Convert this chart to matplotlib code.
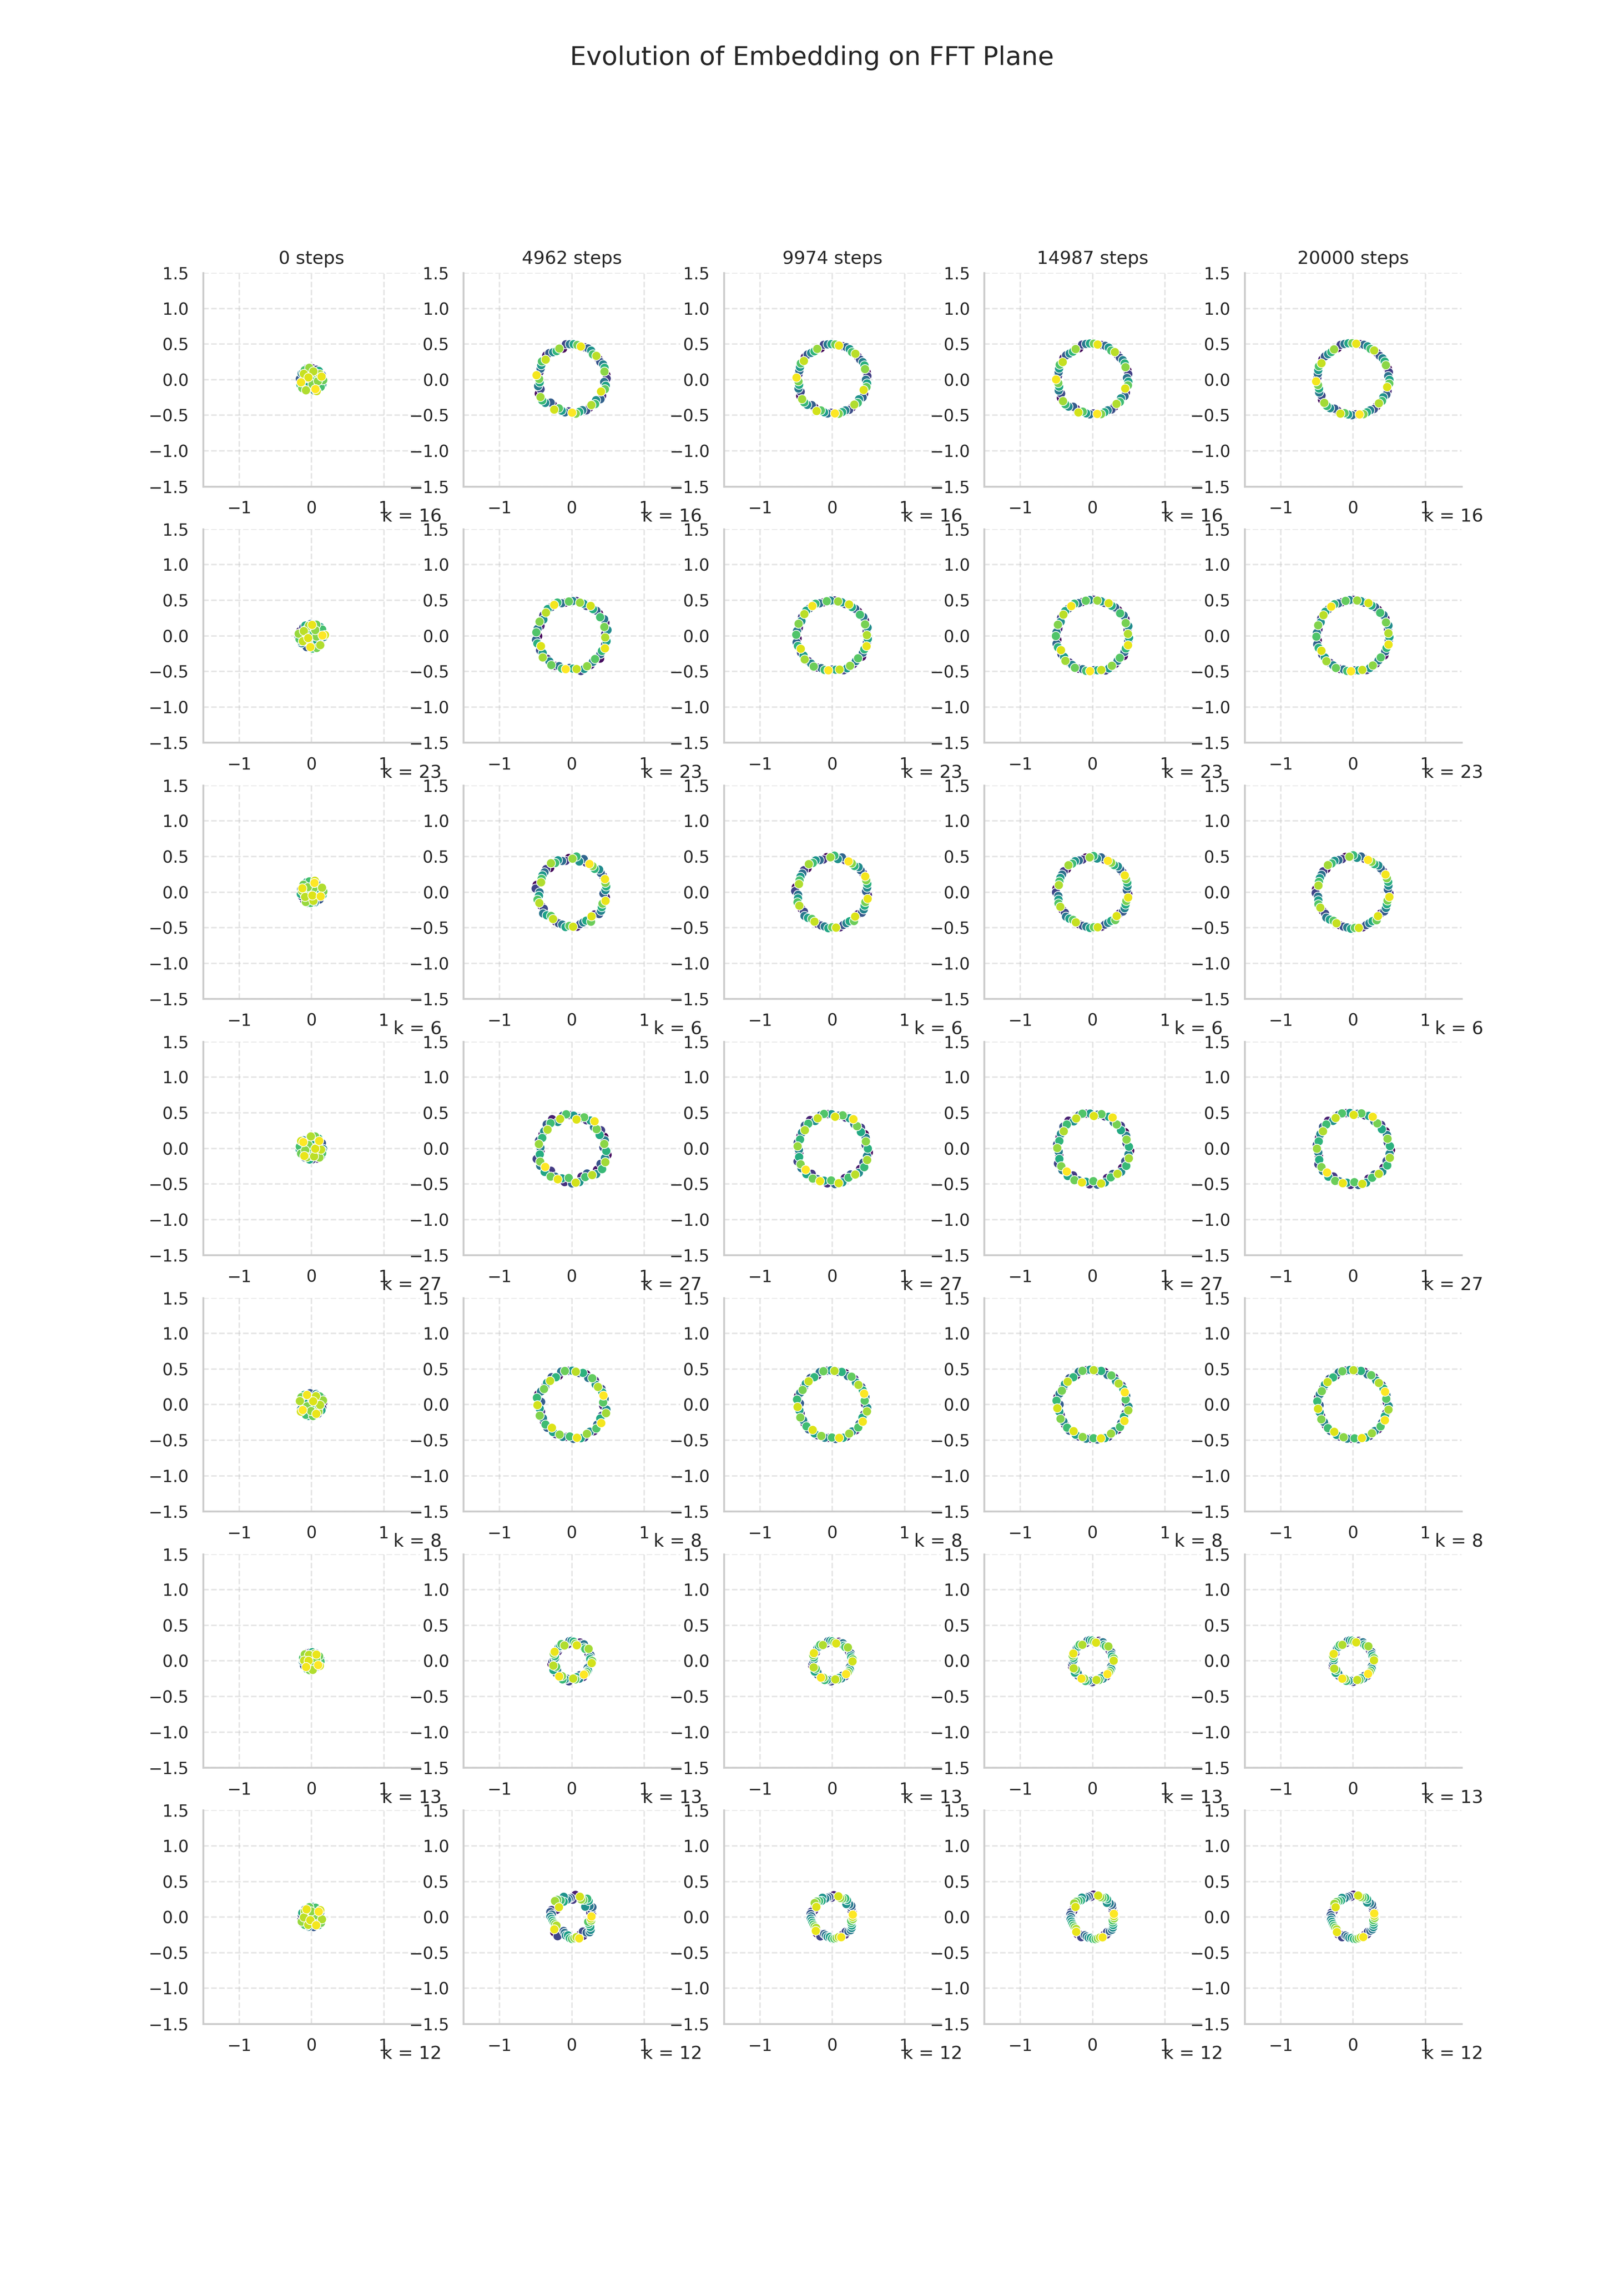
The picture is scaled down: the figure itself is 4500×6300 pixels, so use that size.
import numpy as np
import matplotlib.pyplot as plt
import seaborn as sns

# tokens 0..58 are the hue; each row is one FFT frequency, each column a checkpoint
P = 59
tokens = np.arange(P)
steps = [0, 4962, 9974, 14987, 20000]
freqs = [16, 23, 6, 27, 8, 13, 12]

# ring radius (column 0 = spread of the untrained blob)
ring_r = [
    [0.17, 0.47, 0.48, 0.49, 0.50],
    [0.18, 0.48, 0.49, 0.50, 0.50],
    [0.16, 0.47, 0.49, 0.49, 0.50],
    [0.17, 0.46, 0.48, 0.49, 0.50],
    [0.17, 0.46, 0.47, 0.48, 0.48],
    [0.13, 0.26, 0.27, 0.28, 0.28],
    [0.15, 0.28, 0.29, 0.30, 0.30],
]
# how ragged the ring still is
wobble = [
    [0, 1.2, 0.8, 0.8, 0.6],
    [0, 1.0, 0.6, 0.6, 0.5],
    [0, 1.2, 0.8, 0.6, 0.6],
    [0, 1.8, 1.2, 1.2, 1.0],
    [0, 1.2, 0.8, 0.8, 0.6],
    [0, 2.0, 1.2, 1.2, 1.0],
    [0, 3.2, 1.6, 1.3, 1.2],
]
# ring rotation in degrees
phase = [
    [0, 8, 12, 15, 18],
    [0, 40, 44, 46, 47],
    [0, 95, 99, 101, 102],
    [0, 20, 24, 27, 28],
    [0, 65, 68, 70, 71],
    [0, 30, 35, 37, 38],
    [0, 75, 80, 82, 83],
]
blob_rot = [0, 70, 140, 210, 280, 35, 105]

# step-0 blob: hand-read offsets (unit scale)
blob_dx = [0.62, -0.35, 0.10, -0.88, 0.45, 0.05, -0.52, 0.78, -0.15, 0.30,
           -0.70, 0.92, -0.05, 0.40, -0.28, 0.66, -0.95, 0.18, -0.42, 0.85,
           0.00, -0.60, 0.35, -0.12, 0.72, -0.80, 0.25, 0.55, -0.38, -0.02,
           0.48, -0.68, 0.12, 0.88, -0.22, 0.60, -0.48, 0.20, -0.90, 0.38,
           -0.08, 0.75, -0.55, 0.28, -0.32, 0.95, -0.75, 0.08, 0.52, -0.18,
           0.68, -0.45, 0.15, -0.62, 0.42, -0.25, 0.82, -0.85, 0.32]
blob_dy = [0.20, 0.70, -0.85, -0.15, 0.55, 0.95, -0.45, -0.30, 0.40, -0.62,
           0.35, 0.10, -0.20, 0.82, -0.75, -0.58, 0.05, 0.48, 0.90, 0.38,
           -0.50, -0.10, -0.35, 0.65, 0.15, 0.52, -0.92, 0.28, -0.25, 0.30,
           -0.80, 0.60, 0.02, -0.40, -0.55, 0.72, 0.22, -0.68, -0.42, 0.08,
           0.85, -0.60, 0.78, 0.58, 0.12, -0.05, -0.70, -0.38, -0.12, 0.98,
           0.45, -0.88, 0.68, 0.48, -0.95, 0.18, 0.25, -0.22, -0.78]
# radial scatter of each token around the ring
jitter = [0.02, -0.03, 0.05, -0.01, 0.00, 0.04, -0.05, 0.01, 0.03, -0.02,
          -0.04, 0.02, 0.06, -0.03, 0.01, -0.01, 0.03, -0.06, 0.02, 0.04,
          -0.02, 0.00, -0.04, 0.05, 0.01, -0.03, 0.02, -0.01, 0.04, -0.05,
          0.03, 0.00, -0.02, 0.01, 0.05, -0.04, -0.01, 0.02, -0.03, 0.06,
          0.00, -0.02, 0.03, -0.05, 0.01, 0.04, -0.03, 0.02, -0.01, 0.00,
          0.05, -0.04, 0.01, -0.02, 0.03, -0.06, 0.02, 0.04, -0.01]

sns.set_theme(style="whitegrid", rc={"grid.linestyle": "--"})

fig, axes = plt.subplots(len(freqs), len(steps), figsize=(15, 21))

bdx = np.array(blob_dx)
bdy = np.array(blob_dy)
jit = np.array(jitter)

for i, k in enumerate(freqs):
    # position of each token on the circle of frequency k
    slot = (k * tokens) % P
    for j, st in enumerate(steps):
        ax = axes[i, j]
        if j == 0:
            a = np.deg2rad(blob_rot[i])
            x = ring_r[i][0] * (bdx * np.cos(a) - bdy * np.sin(a))
            y = ring_r[i][0] * (bdx * np.sin(a) + bdy * np.cos(a))
        else:
            ang = 2 * np.pi * slot / P + np.deg2rad(phase[i][j])
            r = ring_r[i][j] * (1 + wobble[i][j] * jit)
            x = r * np.cos(ang)
            y = r * np.sin(ang)
        ax.scatter(x, y, c=tokens, cmap="viridis", vmin=0, vmax=P - 1,
                   s=36, edgecolor="white", linewidth=0.5, zorder=3)
        ax.set_xlim(-1.5, 1.5)
        ax.set_ylim(-1.5, 1.5)
        ax.set_xticks([-1, 0, 1])
        ax.set_yticks([-1.5, -1.0, -0.5, 0.0, 0.5, 1.0, 1.5])
        ax.grid(True, linestyle="--", alpha=0.5)
        sns.despine(ax=ax)
        if i == 0:
            ax.set_title(f"{st} steps")
        ax.text(1.1, -0.1, f"k = {k}", transform=ax.transAxes,
                ha="right", va="top", fontsize=12)

fig.suptitle("Evolution of Embedding on FFT Plane", fontsize="x-large")
plt.savefig("out.png", dpi=300)
